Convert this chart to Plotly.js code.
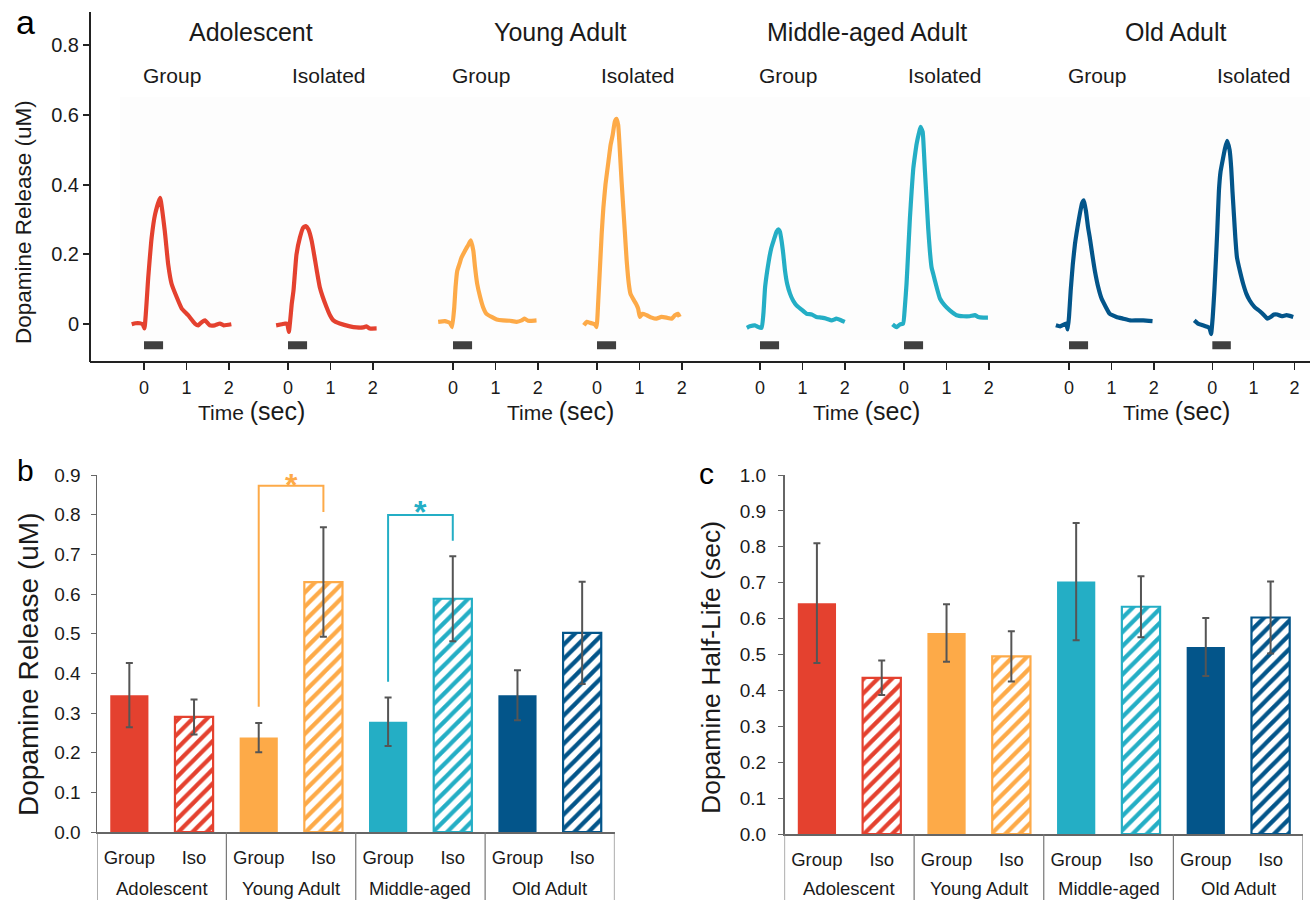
<!DOCTYPE html>
<html><head><meta charset="utf-8">
<script src="https://cdn.plot.ly/plotly-3.0.1.min.js"></script>
<style>html,body{margin:0;padding:0;background:#fff}#chart{width:1315px;height:900px}</style>
</head><body><div id="chart"></div>
<script>
// ---------- data ----------
const ageTitles = ['Adolescent', 'Young Adult', 'Middle-aged Adult', 'Old Adult'];
const housingTitles = ['Group', 'Isolated'];
const ageColors = ['#E4412F', '#FDAA48', '#24AEC5', '#03558A'];
const timeTicks = [0, 1, 2];
const timeTickText = ['0', '1', '2'];
const releaseTicks = [0, 0.2, 0.4, 0.6, 0.8];
const releaseTickText = ['0', '0.2', '0.4', '0.6', '0.8'];
const stimTime = [0, 0.45];
const stimLevel = [-0.06, -0.06];

const adolGroupT = [-0.29,-0.2,-0.1,-0.03,0.01,0.1,0.18,0.26,0.38,0.49,0.57,0.65,0.77,0.89,1.04,1.2,1.28,1.36,1.44,1.55,1.67,1.79,1.88,2.06];
const adolGroupV = [0.0,0.003,0.003,0.0,-0.012,0.134,0.248,0.314,0.362,0.267,0.172,0.116,0.078,0.045,0.026,0.002,-0.003,0.006,0.011,-0.003,-0.003,0.002,-0.003,0.0];
const adolIsoT = [-0.28,-0.15,-0.07,-0.02,0.02,0.09,0.13,0.2,0.28,0.36,0.42,0.48,0.56,0.64,0.68,0.75,0.82,0.91,0.99,1.07,1.22,1.46,1.62,1.77,1.85,1.93,2.09];
const adolIsoV = [-0.003,0.0,0.002,0.002,-0.022,0.06,0.097,0.2,0.248,0.277,0.281,0.272,0.238,0.182,0.153,0.106,0.078,0.049,0.026,0.011,0.002,-0.006,-0.009,-0.009,-0.006,-0.012,-0.012];
const youngGroupT = [-0.35,-0.19,-0.07,-0.02,0.03,0.06,0.1,0.15,0.2,0.28,0.36,0.42,0.48,0.52,0.57,0.64,0.71,0.79,0.91,1.03,1.18,1.34,1.5,1.62,1.69,1.77,1.85,1.97];
const youngGroupV = [0.007,0.009,0.004,-0.008,0.049,0.106,0.153,0.172,0.191,0.21,0.227,0.24,0.21,0.163,0.116,0.078,0.049,0.03,0.021,0.014,0.011,0.01,0.007,0.011,0.016,0.01,0.01,0.011];
const youngIsoT = [-0.31,-0.24,-0.16,-0.05,-0.01,0.03,0.07,0.11,0.15,0.2,0.27,0.32,0.37,0.42,0.46,0.5,0.54,0.58,0.62,0.66,0.7,0.75,0.79,0.85,0.92,0.97,1.01,1.07,1.17,1.29,1.4,1.52,1.64,1.76,1.84,1.91,1.95];
const youngIsoV = [-0.003,0.007,0.004,0.0,-0.008,0.068,0.163,0.258,0.333,0.4,0.466,0.513,0.542,0.58,0.588,0.57,0.494,0.409,0.333,0.258,0.182,0.116,0.087,0.073,0.059,0.045,0.021,0.03,0.026,0.019,0.016,0.021,0.019,0.016,0.026,0.03,0.021];
const midGroupT = [-0.31,-0.24,-0.12,-0.04,0.04,0.08,0.12,0.17,0.22,0.27,0.33,0.39,0.43,0.47,0.51,0.55,0.59,0.64,0.71,0.78,0.86,0.98,1.1,1.22,1.33,1.45,1.57,1.69,1.8,1.92,2.0];
const midGroupV = [-0.01,-0.006,-0.003,-0.008,-0.01,0.03,0.106,0.153,0.191,0.22,0.243,0.265,0.272,0.265,0.238,0.2,0.153,0.116,0.087,0.068,0.054,0.042,0.03,0.028,0.021,0.019,0.016,0.011,0.016,0.011,0.007];
const midIsoT = [-0.27,-0.21,-0.17,-0.09,-0.02,0.02,0.06,0.1,0.14,0.18,0.22,0.26,0.3,0.35,0.39,0.44,0.47,0.49,0.53,0.57,0.61,0.65,0.69,0.77,0.85,0.96,1.08,1.24,1.4,1.55,1.67,1.75,1.87,1.98];
const midIsoV = [0.0,-0.006,-0.008,0.0,0.002,0.049,0.116,0.21,0.305,0.381,0.447,0.485,0.518,0.546,0.565,0.551,0.494,0.447,0.362,0.276,0.21,0.163,0.144,0.106,0.073,0.054,0.04,0.026,0.023,0.023,0.026,0.021,0.019,0.019];
const oldGroupT = [-0.31,-0.21,-0.07,-0.03,0.0,0.04,0.09,0.14,0.2,0.26,0.31,0.35,0.4,0.45,0.49,0.56,0.61,0.69,0.77,0.87,0.96,1.12,1.28,1.44,1.59,1.75,1.97];
const oldGroupV = [-0.003,-0.006,0.002,-0.015,0.021,0.097,0.172,0.229,0.277,0.319,0.347,0.355,0.324,0.277,0.248,0.191,0.153,0.106,0.073,0.049,0.03,0.021,0.016,0.011,0.011,0.011,0.009];
const oldIsoT = [-0.44,-0.35,-0.23,-0.11,-0.07,-0.03,0.01,0.05,0.09,0.12,0.16,0.2,0.26,0.31,0.36,0.42,0.46,0.49,0.53,0.56,0.6,0.67,0.75,0.83,0.91,1.03,1.15,1.26,1.34,1.42,1.5,1.58,1.69,1.81,1.97];
const oldIsoV = [0.011,0.002,-0.003,-0.008,-0.01,-0.028,0.021,0.097,0.191,0.267,0.381,0.437,0.475,0.504,0.525,0.499,0.447,0.381,0.305,0.248,0.191,0.153,0.116,0.087,0.068,0.049,0.038,0.026,0.016,0.021,0.028,0.028,0.023,0.026,0.021];

const barCategories = ['Group', 'Iso', 'Group', 'Iso', 'Group', 'Iso', 'Group', 'Iso'];
const barAges = ['Adolescent', 'Young Adult', 'Middle-aged', 'Old Adult'];
const releaseMean = [0.345, 0.29, 0.238, 0.63, 0.278, 0.588, 0.345, 0.502];
const releaseErr = [0.081, 0.044, 0.037, 0.138, 0.061, 0.107, 0.063, 0.129];
const halfLifeMean = [0.643, 0.435, 0.56, 0.495, 0.703, 0.633, 0.521, 0.603];
const halfLifeErr = [0.167, 0.048, 0.08, 0.07, 0.163, 0.085, 0.081, 0.1];
const sigPairs = [[2, 3], [4, 5]];
const sigBase = [[0.316, 0.807], [0.379, 0.734]];
const sigTop = [0.873, 0.799];
const sigStarY = [0.895, 0.827];
const sigLabel = ['*', '*'];

// ---------- layout helpers ----------
const W = 1315, H = 900;
const FONT = 'Liberation Sans, Arial, Helvetica, sans-serif';
const TXT = '#1a1a1a';
const px = p => p / W;
const py = p => 1 - p / H;
const curves = [
  [adolGroupT, adolGroupV], [adolIsoT, adolIsoV],
  [youngGroupT, youngGroupV], [youngIsoT, youngIsoV],
  [midGroupT, midGroupV], [midIsoT, midIsoV],
  [oldGroupT, oldGroupV], [oldIsoT, oldIsoV]
];
const zeroPx = [144, 288, 453, 597, 760, 904, 1069, 1213];
const pps = 42.4;

const data = [];
const layout = {
  width: W, height: H, margin: {l: 0, r: 0, t: 0, b: 0},
  paper_bgcolor: '#ffffff', plot_bgcolor: 'rgba(0,0,0,0)',
  showlegend: false, font: {family: FONT, color: TXT},
  bargap: 0.41, barmode: 'overlay',
  shapes: [], annotations: []
};

// top panel y axis
layout.yaxis = {
  domain: [py(362), py(12)], range: [-0.108, 0.894], anchor: 'free', position: px(90),
  showline: true, linecolor: '#222', linewidth: 2, ticks: 'outside', ticklen: 6, tickwidth: 2,
  tickcolor: '#222', tickvals: releaseTicks, ticktext: releaseTickText,
  tickfont: {size: 20, color: TXT}, showgrid: false, zeroline: false
};

curves.forEach((c, i) => {
  const axName = i === 0 ? 'xaxis' : 'xaxis' + (i + 1);
  const axId = i === 0 ? 'x' : 'x' + (i + 1);
  const z = zeroPx[i];
  layout[axName] = {
    domain: [px(z - 0.5 * pps), px(z + 2.5 * pps)], range: [-0.5, 2.5], anchor: 'y',
    showline: false, ticks: 'outside', ticklen: 7, tickwidth: 1.5, tickcolor: '#222',
    tickvals: timeTicks, ticktext: timeTickText, tickfont: {size: 18, color: TXT},
    ticklabelstandoff: 2, showgrid: false, zeroline: false
  };
  const color = ageColors[Math.floor(i / 2)];
  data.push({type: 'scatter', mode: 'lines', x: stimTime, y: stimLevel, xaxis: axId, yaxis: 'y',
    line: {color: '#404040', width: 8}, hoverinfo: 'skip'});
  data.push({type: 'scatter', mode: 'lines', x: c[0], y: c[1], xaxis: axId, yaxis: 'y',
    line: {color: color, width: 4.2, shape: 'spline', smoothing: 0.4}, hoverinfo: 'skip'});
});

layout.shapes.push({type: 'rect', xref: 'paper', yref: 'paper', x0: px(120), x1: px(1310),
  y0: py(340), y1: py(97), fillcolor: '#fdfdfd', line: {width: 0}, layer: 'below'});
layout.shapes.push({type: 'line', xref: 'paper', yref: 'paper', x0: px(90), x1: px(1310),
  y0: py(362), y1: py(362), line: {color: '#222', width: 2}});

ageTitles.forEach((t, k) => {
  const center = zeroPx[2 * k] + 107;
  layout.annotations.push({xref: 'paper', yref: 'paper', x: px(center), y: py(32), text: t,
    showarrow: false, xanchor: 'center', yanchor: 'middle', font: {size: 25, color: TXT}});
  layout.annotations.push({xref: 'paper', yref: 'paper', x: px(center), y: py(411),
    text: 'Time <span style="font-size:25px">(sec)</span>',
    showarrow: false, xanchor: 'center', yanchor: 'middle', font: {size: 21, color: TXT}});
  housingTitles.forEach((h, j) => {
    const off = j === 0 ? 28 : 41;
    layout.annotations.push({xref: 'paper', yref: 'paper', x: px(zeroPx[2 * k + j] + off), y: py(76),
      text: h, showarrow: false, xanchor: 'center', yanchor: 'middle', font: {size: 21, color: TXT}});
  });
});
layout.annotations.push({xref: 'paper', yref: 'paper', x: px(23), y: py(222), text: 'Dopamine Release (uM)',
  textangle: -90, showarrow: false, xanchor: 'center', yanchor: 'middle', font: {size: 22.5, color: TXT}});

// ---------- bar charts ----------
const idx = barCategories.map((_, i) => i);
const barColors = idx.map(i => ageColors[Math.floor(i / 2)]);
const barPattern = barCategories.map(c => c === 'Iso' ? '/' : '');
const barBg = barCategories.map((c, i) => c === 'Iso' ? '#ffffff' : barColors[i]);
const barLine = barCategories.map(c => c === 'Iso' ? 2.2 : 0);

function barPanel(xa, ya, xDom, yDom, yRange, means, errs, letter, letterPos, title, titlePos, titleSize, yStandoff) {
  const xaName = 'xaxis' + xa.slice(1), yaName = 'yaxis' + ya.slice(1);
  layout[xaName] = {
    domain: xDom, range: [-0.5, 7.5], anchor: ya, showline: true, linecolor: '#666', linewidth: 1.5,
    tickvals: idx, ticktext: barCategories, ticks: '', ticklabelstandoff: 8,
    tickfont: {size: 18.5, color: TXT}, showgrid: false, zeroline: false
  };
  layout[yaName] = {
    domain: yDom, range: yRange, anchor: xa, showline: true, linecolor: '#666', linewidth: 1.5,
    ticks: 'outside', ticklen: 5, tickcolor: '#666', dtick: 0.1, tick0: 0, tickformat: '.1f',
    ticklabelstandoff: yStandoff,
    tickfont: {size: 19, color: TXT}, showgrid: false, zeroline: false
  };
  data.push({
    type: 'bar', x: idx, y: means, xaxis: xa, yaxis: ya, width: 0.59,
    marker: {color: barColors, line: {color: barColors, width: barLine},
      pattern: {shape: barPattern, fgcolor: barColors, bgcolor: barBg, size: 10, solidity: 0.42, fillmode: 'replace'}},
    error_y: {type: 'data', array: errs, visible: true, color: '#555', thickness: 2, width: 3.5},
    hoverinfo: 'skip'
  });
  [-0.5, 1.5, 3.5, 5.5, 7.5].forEach(b => {
    layout.shapes.push({type: 'line', xref: xa, yref: 'paper', x0: b, x1: b, y0: 0, y1: yDom[0],
      line: {color: '#777', width: 1.2}});
  });
  barAges.forEach((a, k) => {
    layout.annotations.push({xref: xa, yref: 'paper', x: 2 * k + 0.5, y: py(888), text: a,
      showarrow: false, xanchor: 'center', yanchor: 'middle', font: {size: 18.5, color: TXT}});
  });
  layout.annotations.push({xref: 'paper', yref: 'paper', x: px(letterPos[0]), y: py(letterPos[1]), text: letter,
    showarrow: false, xanchor: 'center', yanchor: 'middle', font: {size: 30, color: '#000'}});
  layout.annotations.push({xref: 'paper', yref: 'paper', x: px(titlePos[0]), y: py(titlePos[1]), text: title,
    textangle: -90, showarrow: false, xanchor: 'center', yanchor: 'middle', font: {size: titleSize, color: TXT}});
}

barPanel('x9', 'y2', [px(97), px(614.5)], [py(832), py(475)], [0, 0.9], releaseMean, releaseErr,
  'b', [26, 470], 'Dopamine Release (uM)', [28, 665], 28, 6);
barPanel('x10', 'y3', [px(784.5), px(1303)], [py(834), py(475)], [0, 1.0], halfLifeMean, halfLifeErr,
  'c', [706, 473], 'Dopamine Half-Life (sec)', [711, 668], 26.5, 8);

sigPairs.forEach((p, k) => {
  const col = ageColors[Math.floor(p[0] / 2)];
  data.push({type: 'scatter', mode: 'lines', xaxis: 'x9', yaxis: 'y2',
    x: [p[0], p[0], p[1], p[1]], y: [sigBase[k][0], sigTop[k], sigTop[k], sigBase[k][1]],
    line: {color: col, width: 2}, hoverinfo: 'skip'});
  layout.annotations.push({xref: 'x9', yref: 'y2', x: (p[0] + p[1]) / 2, y: sigStarY[k], text: '<b>' + sigLabel[k] + '</b>',
    showarrow: false, xanchor: 'center', yanchor: 'middle', yshift: -8, font: {size: 32, color: col}});
});

layout.annotations.push({xref: 'paper', yref: 'paper', x: px(26), y: py(22), text: 'a',
  showarrow: false, xanchor: 'center', yanchor: 'middle', font: {size: 34, color: '#000'}});

Plotly.newPlot('chart', data, layout, {displayModeBar: false, staticPlot: true});
</script></body></html>
